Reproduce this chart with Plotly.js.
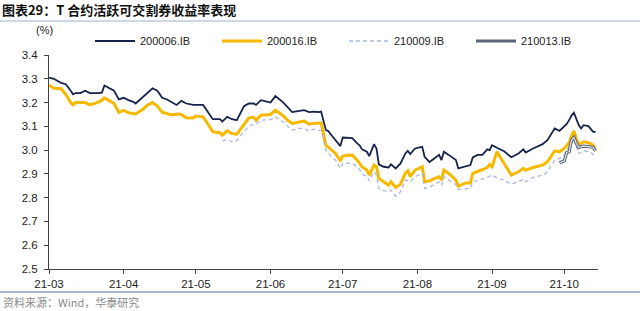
<!DOCTYPE html>
<html>
<head>
<meta charset="utf-8">
<script src="https://cdn.plot.ly/plotly-3.0.1.min.js"></script>
<style>html,body{margin:0;padding:0;background:#fff;}#chart{width:640px;height:311px;}</style>
</head>
<body>
<div id="chart"></div>
<script>
const dates = [
'2021-03-01','2021-03-03','2021-03-06','2021-03-08','2021-03-10','2021-03-11','2021-03-12','2021-03-14','2021-03-16','2021-03-18',
'2021-03-21','2021-03-23','2021-03-24','2021-03-26','2021-03-28','2021-03-30','2021-04-01','2021-04-03','2021-04-05','2021-04-06',
'2021-04-09','2021-04-11','2021-04-13','2021-04-15','2021-04-17','2021-04-19','2021-04-21','2021-04-23','2021-04-25','2021-04-27',
'2021-04-30','2021-05-01','2021-05-04','2021-05-06','2021-05-08','2021-05-11','2021-05-12','2021-05-14','2021-05-16','2021-05-18',
'2021-05-19','2021-05-21','2021-05-23','2021-05-25','2021-05-26','2021-05-28','2021-05-30','2021-06-01','2021-06-03','2021-06-06',
'2021-06-08','2021-06-10','2021-06-13','2021-06-15','2021-06-17','2021-06-19','2021-06-21','2021-06-22','2021-06-24','2021-06-25',
'2021-06-26','2021-06-28','2021-06-30','2021-07-01','2021-07-03','2021-07-05','2021-07-07','2021-07-08','2021-07-09','2021-07-11',
'2021-07-12','2021-07-14','2021-07-15','2021-07-16','2021-07-18','2021-07-20','2021-07-21','2021-07-23','2021-07-25','2021-07-27',
'2021-07-28','2021-07-29','2021-07-31','2021-08-03','2021-08-04','2021-08-06','2021-08-08','2021-08-10','2021-08-11','2021-08-12',
'2021-08-14','2021-08-16','2021-08-17','2021-08-18','2021-08-21','2021-08-23','2021-08-24','2021-08-26','2021-08-28','2021-08-29',
'2021-08-30','2021-08-31','2021-09-01','2021-09-03','2021-09-06','2021-09-09','2021-09-12','2021-09-14','2021-09-15','2021-09-18',
'2021-09-22','2021-09-24','2021-09-27','2021-09-29','2021-10-01','2021-10-02','2021-10-03','2021-10-04','2021-10-05','2021-10-06',
'2021-10-07','2021-10-08','2021-10-09','2021-10-11','2021-10-12','2021-10-13','2021-10-14'
];

const y200006 = [
3.305,3.300,3.283,3.277,3.250,3.235,3.240,3.240,3.250,3.240,
3.240,3.242,3.272,3.262,3.250,3.213,3.220,3.210,3.203,3.196,
3.224,3.240,3.260,3.250,3.220,3.213,3.203,3.190,3.207,3.196,
3.190,3.190,3.190,3.160,3.130,3.130,3.120,3.140,3.130,3.126,
3.147,3.185,3.196,3.196,3.190,3.210,3.205,3.200,3.227,3.203,
3.182,3.160,3.165,3.168,3.160,3.162,3.160,3.162,3.084,3.080,
3.067,3.040,3.017,3.053,3.050,3.050,3.028,3.020,3.003,2.993,
2.975,3.025,3.007,2.940,2.930,2.927,2.940,2.923,2.944,2.986,
2.997,2.983,3.007,3.014,2.972,2.950,2.965,2.980,2.958,2.993,
2.980,2.965,2.958,2.923,2.930,2.937,2.969,2.980,2.980,2.993,
3.003,3.000,3.021,3.010,2.995,2.970,2.986,3.003,2.990,3.007,
3.025,3.042,3.091,3.081,3.101,3.110,3.126,3.145,3.157,3.126,
3.105,3.091,3.105,3.101,3.091,3.077,3.077
];

const y200016 = [
3.274,3.260,3.258,3.234,3.200,3.190,3.200,3.200,3.200,3.190,
3.200,3.210,3.220,3.208,3.196,3.159,3.167,3.157,3.155,3.152,
3.172,3.190,3.200,3.185,3.160,3.155,3.148,3.152,3.150,3.136,
3.135,3.143,3.140,3.110,3.077,3.073,3.063,3.081,3.070,3.067,
3.080,3.110,3.135,3.138,3.126,3.147,3.147,3.150,3.168,3.147,
3.126,3.112,3.118,3.122,3.110,3.113,3.114,3.115,3.021,3.013,
3.005,2.986,2.954,2.975,2.978,2.979,2.958,2.945,2.930,2.916,
2.895,2.937,2.930,2.881,2.867,2.853,2.867,2.843,2.857,2.902,
2.913,2.888,2.916,2.930,2.867,2.870,2.880,2.888,2.874,2.916,
2.902,2.885,2.874,2.848,2.862,2.862,2.902,2.910,2.916,2.922,
2.927,2.940,2.930,2.993,2.944,2.895,2.909,2.923,2.916,2.927,
2.937,2.951,2.997,2.993,3.007,3.020,3.031,3.060,3.081,3.049,
3.021,3.030,3.035,3.031,3.025,3.021,2.997
];

// 210009.IB starts 2021-05-12
const start210009 = '2021-05-12';
const y210009 = [
3.039,3.045,3.035,3.040,3.055,3.080,3.100,3.108,3.110,3.126,
3.126,3.128,3.140,3.120,3.101,3.084,3.092,3.090,3.080,3.088,
3.082,3.084,3.000,2.985,2.975,2.958,2.923,2.944,2.944,2.944,
2.930,2.918,2.900,2.888,2.871,2.909,2.895,2.839,2.830,2.825,
2.832,2.806,2.825,2.874,2.872,2.867,2.888,2.902,2.839,2.845,
2.855,2.867,2.853,2.888,2.874,2.862,2.855,2.835,2.839,2.839,
2.867,2.872,2.877,2.880,2.885,2.890,2.895,2.883,2.874,2.857,
2.867,2.877,2.867,2.885,2.895,2.909,2.958,2.965,2.979,3.000,
3.014,3.035,3.049,3.014,2.986,2.990,2.997,2.993,2.990,2.982,
2.975
];

// 210013.IB starts 2021-09-29
const start210013 = '2021-09-29';
const y210013 = [2.947,2.955,2.990,2.993,3.042,3.053,3.028,3.011,3.015,3.017,3.015,3.014,3.011,2.997];

const seriesNames = ['200006.IB','200016.IB','210009.IB','210013.IB'];
const yTicks = [2.5,2.6,2.7,2.8,2.9,3.0,3.1,3.2,3.3,3.4];

const d09 = dates.slice(dates.indexOf(start210009));
const d13 = dates.slice(dates.indexOf(start210013));

const FONT = 'Liberation Sans, Arial, sans-serif';
const CJK = 'Noto Sans CJK SC, sans-serif';

const traces = [
  {x: dates, y: y200006, name: seriesNames[0], type: 'scatter', mode: 'lines',
   line: {color: '#17234a', width: 1.8}},
  {x: dates, y: y200016, name: seriesNames[1], type: 'scatter', mode: 'lines',
   line: {color: '#f7b900', width: 3}},
  {x: d09, y: y210009, name: seriesNames[2], type: 'scatter', mode: 'lines',
   line: {color: '#a9b7df', width: 1.3, dash: '4px,3px'}},
  {x: d13, y: y210013, name: seriesNames[3], type: 'scatter', mode: 'lines', legendgroup: 'g13',
   line: {color: '#5c6577', width: 3.2}},
  {x: d13, y: y210013, name: seriesNames[3], type: 'scatter', mode: 'lines', legendgroup: 'g13', showlegend: false,
   line: {color: '#dde2ec', width: 1.2}}
];

const L = 49, R = 598, T = 55, B = 269, W = 640, H = 311;
const px = v => (v - L) / (R - L);
const py = v => (B - v) / (B - T);

const layout = {
  width: W, height: H,
  margin: {l: L, r: W - R, t: T, b: H - B, pad: 0},
  paper_bgcolor: '#ffffff', plot_bgcolor: '#ffffff',
  showlegend: true,
  title: {text: '<b>图表29：T 合约活跃可交割券收益率表现</b>', font: {family: CJK, size: 13, color: '#111111'},
    x: 0.003, xref: 'container', xanchor: 'left', y: 1 - 10 / H, yref: 'container', yanchor: 'middle'},
  xaxis: {
    type: 'date', range: ['2021-03-01', '2021-10-15'],
    tickformat: '%y-%m', dtick: 'M1', tick0: '2021-03-01',
    showgrid: false, zeroline: false, showline: true, linecolor: '#444', linewidth: 1,
    ticks: 'outside', ticklen: 4, tickcolor: '#444',
    tickfont: {family: FONT, size: 11.5, color: '#222'}
  },
  yaxis: {
    range: [2.5, 3.4], tickvals: yTicks, tickformat: '.1f',
    showgrid: false, zeroline: false, showline: true, linecolor: '#444', linewidth: 1,
    ticks: 'outside', ticklen: 4, tickcolor: '#444', ticklabelstandoff: 4,
    tickfont: {family: FONT, size: 11.5, color: '#222'}
  },
  legend: {orientation: 'h', x: px(90), xanchor: 'left', y: py(41), yanchor: 'middle',
    font: {family: FONT, size: 11, color: '#222'}, bgcolor: 'rgba(0,0,0,0)',
    itemwidth: 40, entrywidth: 72, tracegroupgap: 0},
  annotations: [
    {text: '(%)', xref: 'paper', yref: 'paper', x: px(44), y: py(30), xanchor: 'center', yanchor: 'middle',
     showarrow: false, font: {family: FONT, size: 11, color: '#222'}},
    {text: '资料来源：Wind，华泰研究', xref: 'paper', yref: 'paper', x: px(1), y: py(302), xanchor: 'left', yanchor: 'middle',
     showarrow: false, font: {family: CJK, size: 11, color: '#8a8a8a'}}
  ],
  shapes: [
    {type: 'line', xref: 'paper', yref: 'paper', x0: px(0), x1: px(640), y0: py(21), y1: py(21),
     line: {color: '#9fb0cc', width: 1}},
    {type: 'line', xref: 'paper', yref: 'paper', x0: px(0), x1: px(640), y0: py(292), y1: py(292),
     line: {color: '#a7b6cf', width: 2}}
  ]
};

Plotly.newPlot('chart', traces, layout, {staticPlot: true, displayModeBar: false});
</script>
</body>
</html>
